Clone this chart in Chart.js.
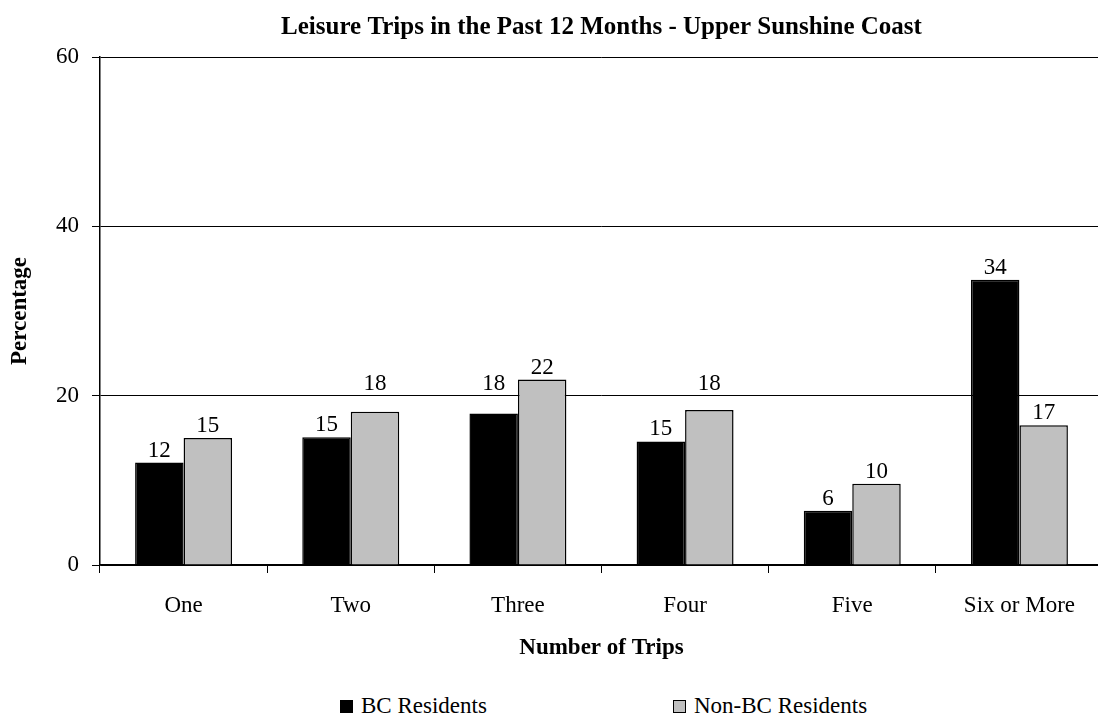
<!DOCTYPE html>
<html>
<head>
<meta charset="utf-8">
<script src="https://cdn.jsdelivr.net/npm/chart.js@4/dist/chart.umd.min.js"></script>
<style>
  html, body { margin: 0; padding: 0; background: #fff; overflow: hidden; }
  #wrap { position: relative; width: 1098px; height: 723px; overflow: hidden; }
  #chart { position: absolute; left: 0; top: 0; }
  .leg { position: absolute; top: 693px; font-family: "Liberation Serif", serif; font-size: 23px; color: #000; display: flex; align-items: center; white-space: nowrap; }
  .leg i { display: inline-block; width: 13px; height: 13px; margin-right: 8px; box-sizing: border-box; border: 1px solid #000; }
</style>
</head>
<body>
<div id="wrap">
  <canvas id="chart" width="1110" height="675"></canvas>
</div>
<script>
  // datos
  const categorias = ['One', 'Two', 'Three', 'Four', 'Five', 'Six or More'];
  const bcResidentes = [12.1, 15.1, 17.9, 14.6, 6.4, 33.7];
  const noBcResidentes = [15.0, 18.1, 21.9, 18.3, 9.6, 16.5];
  const nombresSeries = ['BC Residents', 'Non-BC Residents'];
  const coloresSeries = ['#000000', '#C0C0C0'];
  const ticksY = [0, 20, 40, 60];

  const FUENTE = '"Liberation Serif", serif';

  // etiquetas encima de cada barra (si chocan con una linea de rejilla, se suben)
  const etiquetasBarras = {
    id: 'etiquetasBarras',
    afterDatasetsDraw(chart) {
      const { ctx } = chart;
      const escalaY = chart.scales.y;
      const lineas = ticksY.filter(v => v > 0).map(v => escalaY.getPixelForValue(v));
      ctx.save();
      ctx.font = `23px ${FUENTE}`;
      ctx.fillStyle = '#000';
      ctx.textAlign = 'center';
      ctx.textBaseline = 'alphabetic';
      chart.data.datasets.forEach((ds, i) => {
        chart.getDatasetMeta(i).data.forEach((bar, j) => {
          let base = bar.y - 6;
          const arriba = base - 17;
          lineas.forEach(ly => { if (ly > arriba && ly < bar.y) base = ly - 6; });
          ctx.fillText(String(Math.round(ds.data[j])), bar.x, base);
        });
      });
      ctx.restore();
    }
  };

  const datasets = [bcResidentes, noBcResidentes].map((d, i) => ({
    label: nombresSeries[i],
    data: d,
    backgroundColor: coloresSeries[i],
    borderColor: '#000',
    borderWidth: 1.5,
    categoryPercentage: 0.58,
    barPercentage: 1
  }));

  new Chart(document.getElementById('chart').getContext('2d'), {
    type: 'bar',
    data: { labels: categorias, datasets },
    options: {
      responsive: false,
      animation: false,
      layout: { padding: { left: 0, right: 7, top: 0, bottom: 6 } },
      plugins: {
        legend: { display: false },
        tooltip: { enabled: false },
        title: {
          display: true,
          fullSize: false,
          text: 'Leisure Trips in the Past 12 Months - Upper Sunshine Coast',
          color: '#000',
          font: { family: FUENTE, size: 25, weight: 'bold', lineHeight: 1.2 },
          padding: { top: 13, bottom: 14 }
        }
      },
      scales: {
        x: {
          afterFit: (s) => { s.height = 104; },
          grid: { offset: true, drawOnChartArea: false, drawTicks: true, tickLength: 8, color: '#000', lineWidth: 1 },
          border: { color: '#000', width: 1.5 },
          ticks: { color: '#000', font: { family: FUENTE, size: 23 }, padding: 19, maxRotation: 0 },
          title: { display: true, text: 'Number of Trips', color: '#000', font: { family: FUENTE, size: 23, weight: 'bold', lineHeight: 1.2 }, padding: { top: 0, bottom: 7 } }
        },
        y: {
          min: 0, max: 60,
          afterFit: (s) => { s.width = 100; },
          afterBuildTicks: (s) => { s.ticks = ticksY.map(v => ({ value: v })); },
          grid: { drawTicks: true, tickLength: 8, color: '#000', lineWidth: 1 },
          border: { color: '#000', width: 1.5 },
          ticks: { color: '#000', font: { family: FUENTE, size: 23 }, padding: 13 },
          title: { display: true, text: 'Percentage', color: '#000', font: { family: FUENTE, size: 23, weight: 'bold', lineHeight: 1.2 }, padding: { top: 6, bottom: 0 } }
        }
      }
    },
    plugins: [etiquetasBarras]
  });

  // leyenda en HTML con los mismos nombres y colores
  const posLeyenda = [340, 673];
  const wrap = document.getElementById('wrap');
  nombresSeries.forEach((n, i) => {
    const d = document.createElement('div');
    d.className = 'leg';
    d.style.left = posLeyenda[i] + 'px';
    d.innerHTML = `<i style="background:${coloresSeries[i]}"></i>${n}`;
    wrap.appendChild(d);
  });
</script>
</body>
</html>
